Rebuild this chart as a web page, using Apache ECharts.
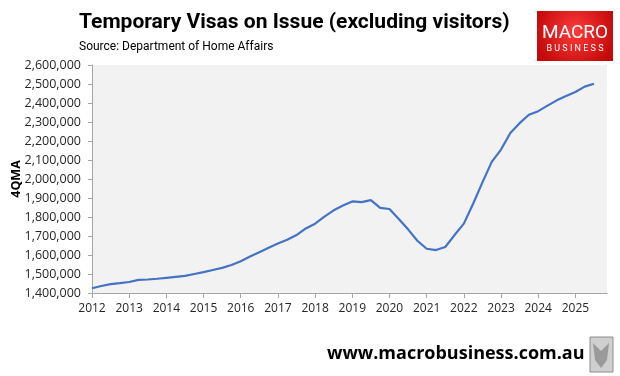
<!DOCTYPE html>
<html>
<head>
<meta charset="utf-8">
<script src="https://cdn.jsdelivr.net/npm/echarts@6/dist/echarts.min.js"></script>
<style>
  html, body { margin: 0; padding: 0; background: #fff; }
  #chart { width: 620px; height: 376px; }
</style>
</head>
<body>
<div id="chart"></div>
<script>
// quarterly series, first point is Q1 2012
var startYear = 2012;
var visas = [
  1425000, 1437000, 1447000, 1452000,
  1458000, 1469000, 1471000, 1475000,
  1480000, 1485000, 1490000, 1500000,
  1510000, 1521000, 1532000, 1547000,
  1567000, 1592000, 1615000, 1638000,
  1660000, 1680000, 1705000, 1740000,
  1765000, 1802000, 1835000, 1860000,
  1882000, 1878000, 1889000, 1848000,
  1842000, 1790000, 1735000, 1675000,
  1633000, 1626000, 1642000, 1705000,
  1765000, 1870000, 1982000, 2090000,
  2155000, 2242000, 2294000, 2338000,
  2357000, 2386000, 2414000, 2437000,
  2458000, 2486000, 2501000
];
var yTicks = { min: 1400000, max: 2600000, step: 100000 };
var xTicks = { min: 2012, max: 2025.85, step: 1 };

var chart = echarts.init(document.getElementById('chart'));

var points = visas.map(function (v, i) {
  return [startYear + i / 4, v];
});

var option = {
  backgroundColor: '#ffffff',
  animation: false,
  grid: {
    left: 92,
    right: 13,
    top: 65,
    bottom: 83,
    show: true,
    backgroundColor: '#f2f2f2',
    borderWidth: 0
  },
  xAxis: {
    type: 'value',
    min: xTicks.min,
    max: xTicks.max,
    interval: xTicks.step,
    axisLine: { show: true, lineStyle: { color: '#a6a6a6', width: 1 } },
    axisTick: { show: true, length: 5, lineStyle: { color: '#a6a6a6' } },
    splitLine: { show: false },
    axisLabel: {
      color: '#262626',
      fontFamily: 'Open Sans',
      fontSize: 12,
      margin: 10,
      showMaxLabel: false,
      formatter: function (v) {
        return Math.abs(v - Math.round(v)) < 1e-6 ? String(Math.round(v)) : '';
      }
    }
  },
  yAxis: {
    type: 'value',
    min: yTicks.min,
    max: yTicks.max,
    interval: yTicks.step,
    axisLine: { show: true, lineStyle: { color: '#a6a6a6', width: 1 } },
    axisTick: { show: true, length: 4, lineStyle: { color: '#a6a6a6' } },
    splitLine: { show: false },
    axisLabel: {
      color: '#262626',
      fontFamily: 'Open Sans',
      fontSize: 12.5,
      margin: 11,
      formatter: function (v) {
        return v.toLocaleString('en-US');
      }
    }
  },
  series: [{
    type: 'line',
    data: points,
    showSymbol: false,
    smooth: false,
    lineStyle: { color: '#4472c4', width: 2.2 }
  }],
  graphic: [
    {
      type: 'text', left: 79, top: 12,
      style: {
        text: 'Temporary Visas on Issue (excluding visitors)',
        fill: '#000', font: 'bold 21px "Roboto"'
      }
    },
    {
      type: 'text', left: 79, top: 41,
      style: {
        text: 'Source: Department of Home Affairs',
        fill: '#000', font: '12px "Roboto"'
      }
    },
    {
      type: 'rect', shape: { x: 537, y: 11, width: 76, height: 50 },
      style: {
        fill: new echarts.graphic.RadialGradient(0.5, 0.4, 0.8, [
          { offset: 0, color: '#ff3b3b' },
          { offset: 1, color: '#c40a0a' }
        ])
      }
    },
    {
      type: 'text', x: 575, y: 33,
      style: {
        text: 'MACRO', fill: '#fff', font: '19px "Liberation Sans Narrow", "Roboto"',
        align: 'center', verticalAlign: 'middle'
      }
    },
    {
      type: 'text', x: 575, y: 49,
      style: {
        text: 'B U S I N E S S', fill: '#fff', font: '9px "Roboto"',
        align: 'center', verticalAlign: 'middle'
      }
    },
    {
      type: 'text', x: 16, y: 179, rotation: Math.PI / 2,
      style: {
        text: '4QMA', fill: '#000', font: 'bold 12.5px "Open Sans"',
        align: 'center', verticalAlign: 'middle'
      }
    },
    {
      type: 'text', left: 327, top: 345,
      style: {
        text: 'www.macrobusiness.com.au', fill: '#000', font: 'bold 18px "Open Sans"'
      }
    },
    {
      type: 'rect', shape: { x: 590, y: 337, width: 23, height: 35 },
      style: { fill: '#cfcfcf', stroke: '#8c8c8c', lineWidth: 1 }
    },
    {
      type: 'polygon', shape: { points: [[593, 343], [601, 351], [609, 343], [607, 360], [601, 368], [595, 360]] },
      style: { fill: '#9a9a9a' }
    }
  ]
};

chart.setOption(option);
</script>
</body>
</html>
